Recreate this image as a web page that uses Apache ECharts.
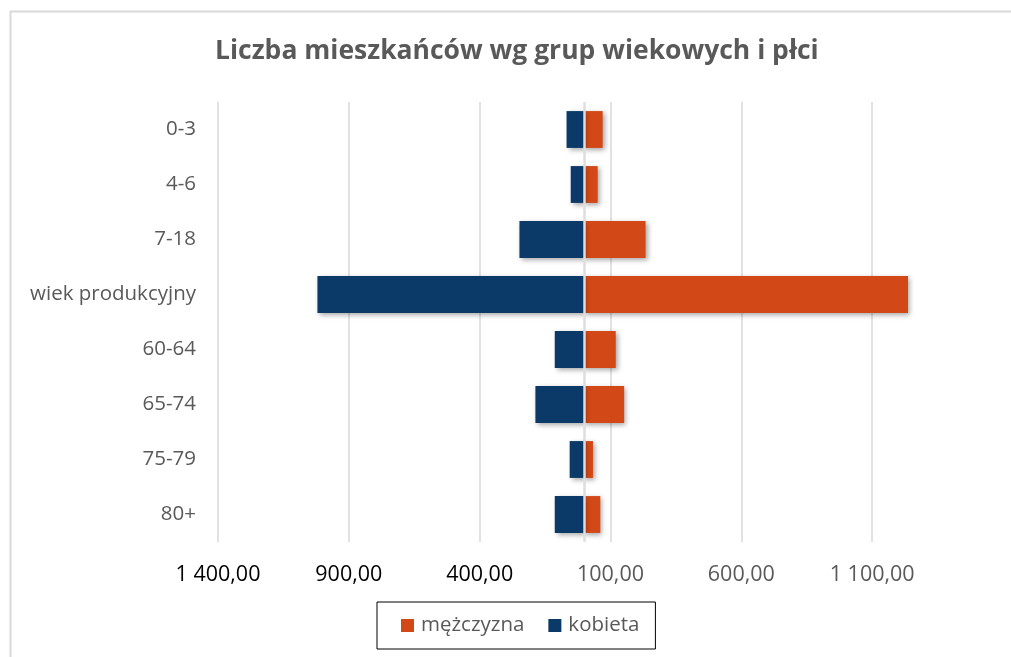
<!DOCTYPE html>
<html>
<head>
<meta charset="utf-8">
<script src="https://cdn.jsdelivr.net/npm/echarts@6/dist/echarts.min.js"></script>
<style>
html,body{margin:0;padding:0;background:#fff;}
#chart{width:1011px;height:657px;}
</style>
</head>
<body>
<div id="chart"></div>
<script>
const categories = ['0-3', '4-6', '7-18', 'wiek produkcyjny', '60-64', '65-74', '75-79', '80+'];
const mezczyzna = [70, 51, 234, 1237, 120, 152, 33, 61];
const kobieta = [68, 52, 248, 1020, 113, 187, 56, 113];
const seriesNames = ['mężczyzna', 'kobieta'];
const titleText = 'Liczba mieszkańców wg grup wiekowych i płci';

const FONT = '"Open Sans", sans-serif';
const chart = echarts.init(document.getElementById('chart'));

function fmt(v) {
  const a = Math.abs(v).toFixed(2).split('.');
  const intPart = a[0].replace(/\B(?=(\d{3})+(?!\d))/g, ' ');
  return intPart + ',' + a[1];
}

const shadow = {shadowColor: 'rgba(0,0,0,0.35)', shadowBlur: 5, shadowOffsetX: 2, shadowOffsetY: 2};

chart.setOption({
  animation: false,
  backgroundColor: '#fff',
  graphic: [{
    type: 'rect', left: 8, top: 9, shape: {width: 1100, height: 700},
    style: {fill: 'none', stroke: '#d9d9d9', lineWidth: 2}, silent: true, z: -10
  }],
  title: {
    text: titleText, left: 210, top: 33,
    textStyle: {fontFamily: FONT, fontSize: 26.5, fontWeight: 'bold', color: '#595959'}
  },
  legend: {
    data: seriesNames, bottom: 8, left: 377,
    borderColor: '#000', borderWidth: 1, padding: [13, 16, 13, 24],
    itemWidth: 13, itemHeight: 13, itemGap: 24, icon: 'rect',
    textStyle: {fontFamily: FONT, fontSize: 20.5, color: '#595959', padding: [0, 0, 0, 2]}
  },
  grid: {left: 218, right: 8, top: 102, bottom: 115, containLabel: false},
  xAxis: {
    type: 'value', min: -1400, max: 1600, interval: 500,
    axisLine: {show: false}, axisTick: {show: false},
    splitLine: {show: true, showMaxLine: false, lineStyle: {color: '#d9d9d9', width: 1.5}},
    axisLabel: {
      showMaxLabel: false, margin: 22, fontFamily: FONT, fontSize: 21.5,
      formatter: v => fmt(v),
      color: v => (v < 0 ? '#000' : '#595959')
    }
  },
  yAxis: {
    type: 'category', data: categories, inverse: true,
    axisLine: {show: false}, axisTick: {show: false},
    axisLabel: {margin: 22, fontFamily: FONT, fontSize: 20.5, color: '#595959'}
  },
  series: [
    {
      name: seriesNames[0], type: 'bar', stack: 'pop', barWidth: '67%',
      data: mezczyzna,
      itemStyle: Object.assign({color: '#D34817'}, shadow),
      markLine: {
        silent: true, symbol: 'none', label: {show: false},
        lineStyle: {color: '#dedede', width: 2.5, type: 'solid'},
        data: [{xAxis: 0}]
      }
    },
    {
      name: seriesNames[1], type: 'bar', stack: 'pop', barWidth: '67%',
      data: kobieta.map(v => -v),
      itemStyle: Object.assign({color: '#0B3A68'}, shadow)
    }
  ]
});
</script>
</body>
</html>
